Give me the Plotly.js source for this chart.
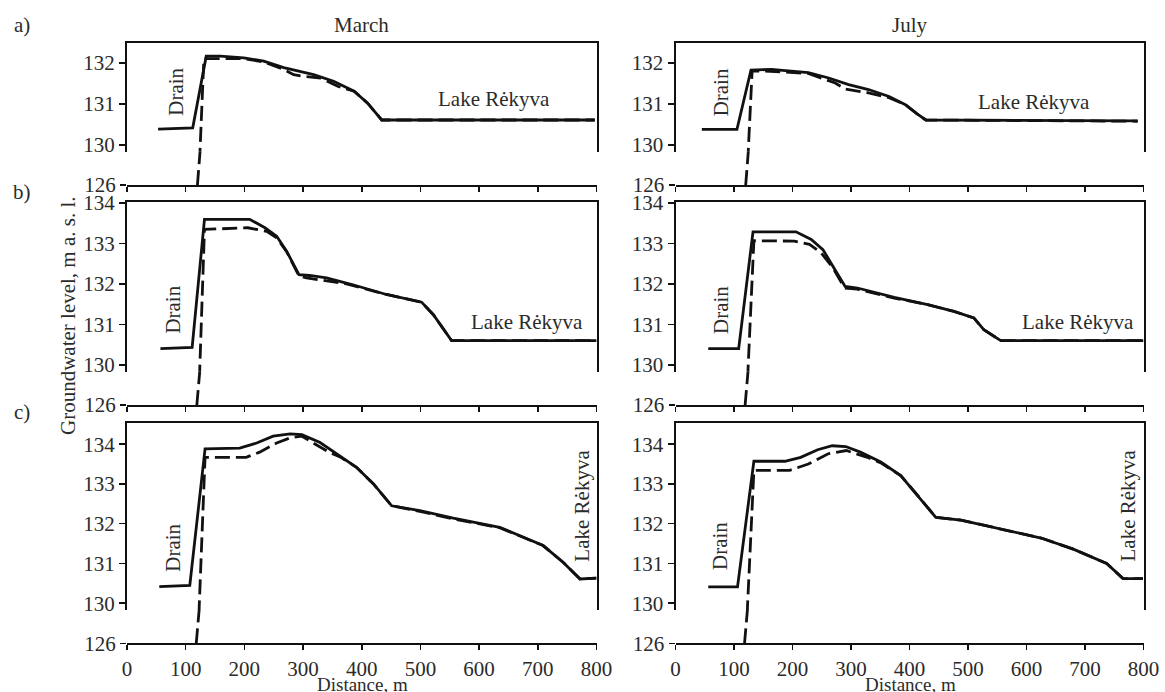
<!DOCTYPE html>
<html><head><meta charset="utf-8">
<script src="https://cdn.plot.ly/plotly-3.0.1.min.js"></script>
<style>html,body{margin:0;padding:0;background:#fff}#chart{width:1165px;height:692px}</style>
</head><body><div id="chart"></div>
<script>
// ---------- DATA (distance, m ; groundwater level, m a.s.l.) ----------
// a) March
const aMarSolidX = [53, 112, 135, 159, 199, 233, 267, 318, 352, 387, 410, 434, 797];
const aMarSolidY = [130.39, 130.42, 132.16, 132.16, 132.12, 132.04, 131.88, 131.71, 131.55, 131.31, 131.02, 130.61, 130.61];
const aMarDashX  = [120, 124.5, 131, 159, 199, 233, 267, 284, 301, 330, 359, 387, 410, 434, 797];
const aMarDashY  = [126, 129.9, 132.1, 132.1, 132.1, 132.02, 131.84, 131.71, 131.67, 131.63, 131.43, 131.31, 131.02, 130.61, 130.61];
// a) July
const aJulSolidX = [45, 105, 129, 164, 227, 262, 296, 330, 365, 393, 413, 428, 790];
const aJulSolidY = [130.38, 130.38, 131.82, 131.84, 131.76, 131.63, 131.47, 131.35, 131.18, 130.98, 130.76, 130.61, 130.59];
const aJulDashX  = [120, 124.5, 131, 153, 227, 273, 290, 330, 365, 393, 413, 428, 790];
const aJulDashY  = [126, 129.9, 131.8, 131.8, 131.74, 131.51, 131.36, 131.27, 131.15, 130.98, 130.76, 130.61, 130.58];
// b) March
const bMarSolidX = [57, 111, 132, 209, 235, 255, 272, 293, 311, 340, 385, 442, 502, 522, 553, 800];
const bMarSolidY = [130.40, 130.43, 133.6, 133.6, 133.39, 133.18, 132.81, 132.23, 132.21, 132.15, 131.98, 131.74, 131.55, 131.24, 130.6, 130.6];
const bMarDashX  = [119, 124, 132, 206, 238, 255, 272, 293, 306, 374, 442, 502, 522, 553, 800];
const bMarDashY  = [126, 129.9, 133.35, 133.39, 133.3, 133.14, 132.8, 132.2, 132.15, 132.0, 131.74, 131.55, 131.24, 130.6, 130.6];
// b) July
const bJulSolidX = [56, 108, 132.5, 206, 232, 252, 269, 290, 311, 374, 431, 476, 510, 527, 556, 800];
const bJulSolidY = [130.4, 130.4, 133.29, 133.29, 133.1, 132.85, 132.44, 131.94, 131.9, 131.67, 131.49, 131.32, 131.16, 130.87, 130.6, 130.6];
const bJulDashX  = [119, 124, 134, 203, 229, 249, 269, 289, 311, 374, 431, 476, 510, 527, 556, 800];
const bJulDashY  = [126, 129.9, 133.07, 133.06, 132.98, 132.77, 132.4, 131.9, 131.87, 131.65, 131.49, 131.32, 131.16, 130.87, 130.6, 130.6];
// c) March
const cMarSolidX = [55, 107, 133, 192, 221, 249, 278, 298, 329, 363, 391, 420, 451, 499, 556, 635, 709, 743, 772, 800];
const cMarSolidY = [130.42, 130.45, 133.88, 133.9, 134.03, 134.2, 134.26, 134.24, 134.04, 133.71, 133.42, 133.0, 132.45, 132.33, 132.14, 131.91, 131.45, 131.03, 130.61, 130.63];
const cMarDashX  = [118, 123, 133, 203, 226, 255, 278, 298, 345, 363, 391, 420, 451, 499, 556, 635, 709, 743, 772, 800];
const cMarDashY  = [126, 129.9, 133.67, 133.67, 133.8, 134.03, 134.16, 134.2, 133.79, 133.68, 133.42, 133.0, 132.45, 132.31, 132.12, 131.9, 131.45, 131.03, 130.61, 130.63];
// c) July
const cJulSolidX = [56, 106, 134, 187, 214, 243, 268, 291, 316, 351, 385, 414, 445, 488, 556, 625, 680, 737, 765, 799];
const cJulSolidY = [130.41, 130.41, 133.57, 133.57, 133.67, 133.86, 133.96, 133.94, 133.8, 133.55, 133.21, 132.71, 132.16, 132.09, 131.87, 131.64, 131.36, 131.0, 130.62, 130.62];
const cJulDashX  = [118, 123, 134, 195, 227, 261, 292, 328, 351, 385, 414, 445, 488, 556, 625, 680, 737, 765, 799];
const cJulDashY  = [126, 129.9, 133.34, 133.34, 133.5, 133.76, 133.84, 133.67, 133.53, 133.21, 132.71, 132.16, 132.09, 131.87, 131.64, 131.36, 131.0, 130.62, 130.62];

const xTickVals = [0, 100, 200, 300, 400, 500, 600, 700, 800];
const upperTicksA = [130, 131, 132];
const upperTicksBC = [130, 131, 132, 133, 134];
const lowerTick = [126];
const colTitles = ['March', 'July'];
const rowLabels = ['a)', 'b)', 'c)'];
const drainLabel = 'Drain';
const lakeLabel = 'Lake Rėkyva';
const yTitle = 'Groundwater level, m a. s. l.';
const xTitle = 'Distance, m';

// ---------- LAYOUT GEOMETRY (pixels) ----------
const W = 1165, H = 692;
const FONT = '"Liberation Serif", "Times New Roman", serif';
const TXT = '#2b2b2b', LINE = '#111';
const px = v => v / W, py = v => 1 - v / H;

const rows = [
  {top: 43,    bot: 151.7, low: 185,   yr: [129.84, 132.48], ticks: upperTicksA},
  {top: 202.3, bot: 371.7, low: 405,   yr: [129.83, 134.02], ticks: upperTicksBC},
  {top: 422.7, bot: 610,   low: 643.3, yr: [129.83, 134.54], ticks: upperTicksBC}
];
const cols = [{l: 127, r: 596.5}, {l: 675.5, r: 1143.5}];

const panels = [
  {row: 0, col: 0, sx: aMarSolidX, sy: aMarSolidY, dx: aMarDashX, dy: aMarDashY, drain: [82, 131.3], lake: [626, 131.12], lakeAngle: 0},
  {row: 0, col: 1, sx: aJulSolidX, sy: aJulSolidY, dx: aJulDashX, dy: aJulDashY, drain: [77, 131.27], lake: [613, 131.05], lakeAngle: 0},
  {row: 1, col: 0, sx: bMarSolidX, sy: bMarSolidY, dx: bMarDashX, dy: bMarDashY, drain: [78, 131.36], lake: [681, 131.05], lakeAngle: 0},
  {row: 1, col: 1, sx: bJulSolidX, sy: bJulSolidY, dx: bJulDashX, dy: bJulDashY, drain: [78, 131.36], lake: [688, 131.05], lakeAngle: 0},
  {row: 2, col: 0, sx: cMarSolidX, sy: cMarSolidY, dx: cMarDashX, dy: cMarDashY, drain: [77, 131.4], lake: [775, 132.45], lakeAngle: -90},
  {row: 2, col: 1, sx: cJulSolidX, sy: cJulSolidY, dx: cJulDashX, dy: cJulDashY, drain: [75, 131.45], lake: [773, 132.45], lakeAngle: -90}
];

const layout = {
  width: W, height: H,
  margin: {l: 0, r: 0, t: 0, b: 0},
  paper_bgcolor: '#fff', plot_bgcolor: 'rgba(0,0,0,0)',
  showlegend: false,
  font: {family: FONT, size: 21, color: TXT},
  annotations: []
};
const traces = [];
const key = (p, n) => (n === 1 ? p + 'axis' : p + 'axis' + n);
const ref = (p, n) => (n === 1 ? p : p + n);
const ann = o => layout.annotations.push(Object.assign({showarrow: false, xanchor: 'center', yanchor: 'middle',
  font: {family: FONT, size: 21, color: TXT}}, o));

let n = 0;
panels.forEach(pn => {
  const R = rows[pn.row], C = cols[pn.col];
  const xd = [px(C.l), px(C.r)];
  const nu = ++n, nl = ++n, nc = ++n;
  // upper part
  layout[key('x', nu)] = {domain: xd, range: [0, 800], anchor: ref('y', nu), side: 'top',
    showline: true, linecolor: LINE, linewidth: 2, ticks: '', showticklabels: false,
    showgrid: false, zeroline: false, fixedrange: true};
  layout[key('y', nu)] = {domain: [py(R.bot), py(R.top)], range: R.yr, anchor: ref('x', nu),
    showline: true, mirror: true, linecolor: LINE, linewidth: 2,
    ticks: 'outside', ticklen: 6, tickwidth: 1.5, tickcolor: LINE,
    tickvals: R.ticks, ticktext: R.ticks.map(String),
    tickfont: {family: FONT, size: 21, color: TXT},
    showgrid: false, zeroline: false, fixedrange: true};
  // lower (broken) part at 126
  layout[key('x', nl)] = {domain: xd, range: [0, 800], anchor: ref('y', nl), side: 'bottom',
    showline: true, linecolor: LINE, linewidth: 2,
    ticks: 'outside', ticklen: 5, tickwidth: 1.5, tickcolor: LINE,
    tickvals: xTickVals, ticktext: xTickVals.map(String),
    showticklabels: pn.row === 2, tickfont: {family: FONT, size: 21, color: TXT},
    showgrid: false, zeroline: false, fixedrange: true};
  layout[key('y', nl)] = {domain: [py(R.low), py(R.bot)], range: [126, R.yr[0]], anchor: ref('x', nl),
    showline: false, ticks: 'outside', ticklen: 6, tickwidth: 1.5, tickcolor: LINE,
    tickvals: lowerTick, ticktext: lowerTick.map(String),
    tickfont: {family: FONT, size: 21, color: TXT},
    showgrid: false, zeroline: false, fixedrange: true};
  // end caps on the 126 line
  layout[key('x', nc)] = {domain: xd, range: [0, 800], anchor: ref('y', nl), overlaying: ref('x', nl),
    side: 'bottom', showline: false, ticks: 'inside', ticklen: 6, tickwidth: 1.5, tickcolor: LINE,
    tickvals: [0, 800], showticklabels: false, showgrid: false, zeroline: false, fixedrange: true};

  const solidLine = {color: LINE, width: 2.8};
  const dashLine = {color: LINE, width: 2.8, dash: '15px,6px'};
  [nu, nl].forEach(a => {
    traces.push({type: 'scatter', mode: 'lines', x: pn.dx, y: pn.dy, line: dashLine,
      xaxis: ref('x', a), yaxis: ref('y', a), hoverinfo: 'skip'});
    traces.push({type: 'scatter', mode: 'lines', x: pn.sx, y: pn.sy, line: solidLine,
      xaxis: ref('x', a), yaxis: ref('y', a), hoverinfo: 'skip'});
  });

  ann({text: drainLabel, x: pn.drain[0], y: pn.drain[1], xref: ref('x', nu), yref: ref('y', nu), textangle: -90});
  ann({text: lakeLabel, x: pn.lake[0], y: pn.lake[1], xref: ref('x', nu), yref: ref('y', nu), textangle: pn.lakeAngle});
});

// column titles, row labels, axis titles
colTitles.forEach((t, i) => ann({text: t, x: px(i === 0 ? 361 : 910), y: py(25), xref: 'paper', yref: 'paper'}));
const rowLabelY = [25, 192, 412];
rowLabels.forEach((t, i) => ann({text: t, x: px(22), y: py(rowLabelY[i]), xref: 'paper', yref: 'paper'}));
ann({text: yTitle, x: px(68), y: py(316), xref: 'paper', yref: 'paper', textangle: -90});
[362, 910].forEach(cx => ann({text: xTitle, x: px(cx), y: py(684), xref: 'paper', yref: 'paper',
  font: {family: FONT, size: 19, color: TXT}}));

Plotly.newPlot('chart', traces, layout, {staticPlot: true, displayModeBar: false});
</script></body></html>
